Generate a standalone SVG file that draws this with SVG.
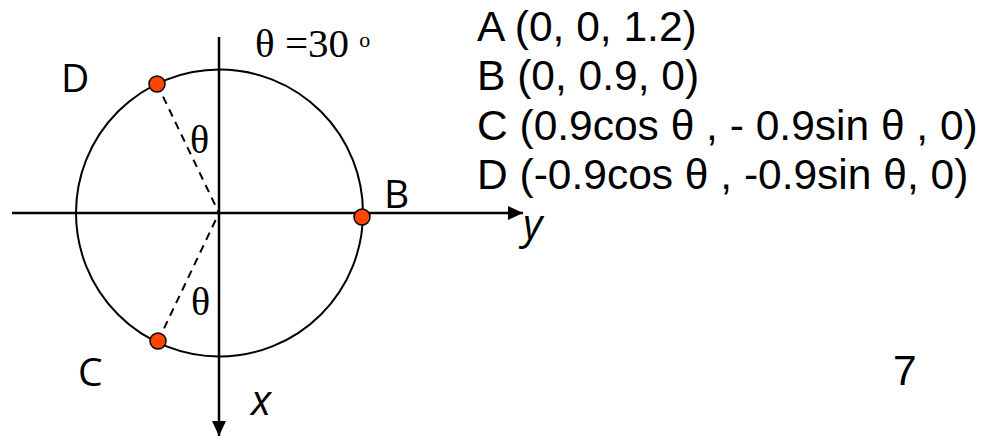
<svg xmlns="http://www.w3.org/2000/svg" width="998" height="436" viewBox="0 0 998 436">
<defs>
<style>
.axis{stroke:#000;stroke-width:2.5;fill:none}
.circ{stroke:#000;stroke-width:2;fill:none}
.dash{stroke:#000;stroke-width:2;stroke-dasharray:8,6;fill:none}
.dot{fill:#FF4500;stroke:#000;stroke-width:1.5}
.serif{font-family:"Liberation Serif","Times New Roman",serif;fill:#000}
.lbl{font-family:"Open Sans","Noto Sans",sans-serif;font-size:39px;fill:#000}
.ital{font-family:"Open Sans","Noto Sans",sans-serif;font-style:italic;font-size:42px;fill:#000}
.coord{font-family:"Liberation Sans",Arial,sans-serif;font-size:42.5px;fill:#000}
</style>
<marker id="arr" viewBox="0 0 15 14" refX="15" refY="7" markerWidth="15" markerHeight="14" markerUnits="userSpaceOnUse" orient="auto">
<path d="M0,0 L15,7 L0,14 Z" fill="#000"/>
</marker>
</defs>
<g id="connectors">
<line class="axis" x1="12" y1="213" x2="523" y2="213" marker-end="url(#arr)"/>
<line class="axis" x1="219" y1="37" x2="219" y2="436" marker-end="url(#arr)"/>
<line class="dash" x1="157" y1="84" x2="219" y2="213"/>
<line class="dash" x1="158" y1="341" x2="219" y2="213"/>
</g>
<g id="circle"><circle class="circ" cx="219.5" cy="213" r="143.5"/></g>
<g id="node-D"><circle class="dot" cx="157" cy="84" r="8"/><text class="lbl" x="61" y="92">D</text></g>
<g id="node-B"><circle class="dot" cx="362" cy="217" r="8"/><text class="lbl" x="384" y="208">B</text></g>
<g id="node-C"><circle class="dot" cx="158" cy="341" r="8"/><text class="lbl" x="78" y="386">C</text></g>
<g id="labels">
<text class="serif" x="255" y="57" font-size="41">θ =30 <tspan font-size="22" dy="-10">o</tspan></text>
<text class="serif" x="190" y="153" font-size="40">θ</text>
<text class="serif" x="191" y="315" font-size="40">θ</text>
<text class="ital" x="251" y="415">x</text>
<text class="ital" x="523" y="239">y</text>
<text class="coord" x="477" y="41">A (0, 0, 1.2)</text>
<text class="coord" x="477" y="90">B (0, 0.9, 0)</text>
<text class="coord" x="477" y="140">C (0.9cos θ , - 0.9sin θ , 0)</text>
<text class="coord" x="477" y="189">D (-0.9cos θ , -0.9sin θ, 0)</text>
<text class="coord" x="893" y="385">7</text>
</g>
</svg>
